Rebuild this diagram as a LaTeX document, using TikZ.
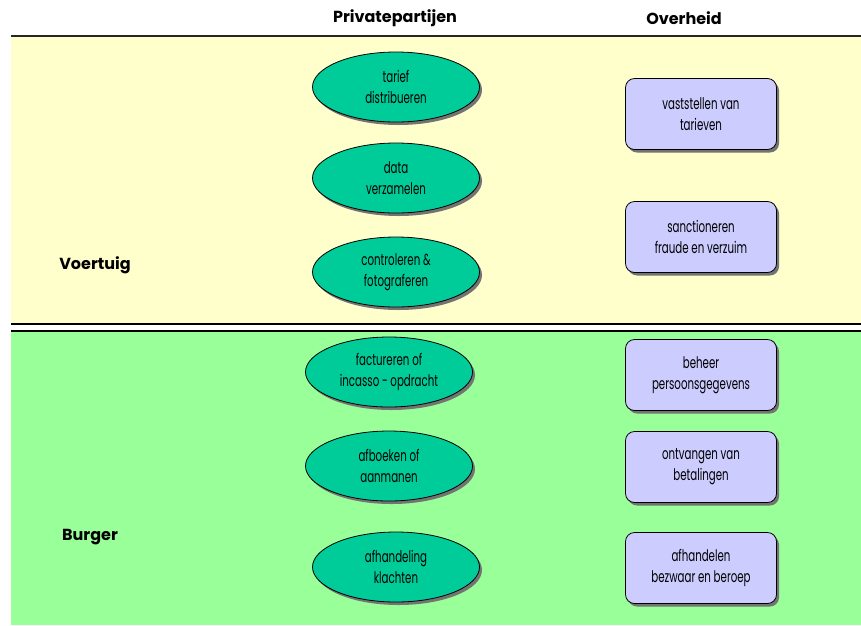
\documentclass[tikz,border=0pt]{standalone}
\usepackage{fontspec}
\setmainfont{Poppins}[FakeStretch=0.64]
\newfontfamily\headfont{Poppins}
\usetikzlibrary{shapes.geometric,shadows}
\definecolor{lane1}{HTML}{FFFFCC}
\definecolor{lane2}{HTML}{99FF99}
\definecolor{ellfill}{HTML}{00CC99}
\definecolor{boxfill}{HTML}{CCCCFF}
\begin{document}
\begin{tikzpicture}[x=1pt,y=-1pt,
  myshadow/.style={drop shadow={shadow xshift=2.5pt,shadow yshift=-3pt,fill=black!55,opacity=1}},
  task/.style={ellipse,draw=black,line width=0.8pt,fill=ellfill,minimum width=167pt,minimum height=70pt,inner sep=0pt,myshadow,align=center,font=\fontsize{16}{21}\selectfont},
  gov/.style={rectangle,rounded corners=9pt,draw=black,line width=0.8pt,fill=boxfill,minimum width=151pt,minimum height=71pt,inner sep=0pt,myshadow,align=center,font=\fontsize{16}{21}\selectfont},
  head/.style={font=\headfont\fontsize{16}{18}\selectfont\bfseries},
  lanelabel/.style={font=\headfont\fontsize{16}{18}\selectfont\bfseries}]
\useasboundingbox (0,0) rectangle (861,625);
\fill[white] (0,0) rectangle (861,625);
% lanes
\fill[lane1] (11,37) rectangle (861,323);
\fill[lane2] (11,332) rectangle (861,625);
\draw[line width=1.6pt,black!85] (11,36) -- (861,36);
\draw[line width=1.5pt,black] (11,324) -- (861,324);
\draw[line width=1.5pt,black] (11,331) -- (861,331);
% headers
\node[head] (hp) at (395,18) {Privatepartijen};
\node[head] (ho) at (684,18) {Overheid};
\node[lanelabel] (lv) at (95,265) {Voertuig};
\node[lanelabel] (lb) at (90,537) {Burger};
% private tasks
\node[task] (e1) at (396,87) {tarief\\distribueren};
\node[task] (e2) at (396,178) {data\\verzamelen};
\node[task] (e3) at (396,272) {controleren \&\\fotograferen};
\node[task] (e4) at (389,372) {factureren of\\incasso - opdracht};
\node[task] (e5) at (389,466) {afboeken of\\aanmanen};
\node[task] (e6) at (396,567) {afhandeling\\klachten};
% government tasks
\node[gov] (b1) at (701,114) {vaststellen van\\tarieven};
\node[gov] (b2) at (701,237) {sanctioneren\\fraude en verzuim};
\node[gov] (b3) at (701,375) {beheer\\persoonsgegevens};
\node[gov] (b4) at (701,467) {ontvangen van\\betalingen};
\node[gov] (b5) at (701,568) {afhandelen\\bezwaar en beroep};
\end{tikzpicture}
\end{document}
